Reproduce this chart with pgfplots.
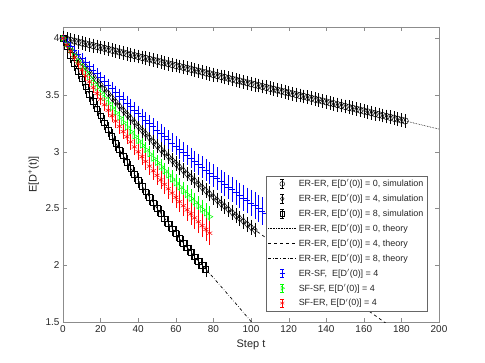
\documentclass[border=0pt]{standalone}
\usepackage{fontspec}
\setmainfont{Liberation Sans}
\usepackage{pgfplots}
\pgfplotsset{compat=1.18}
\usepackage{pgfplotstable}

\definecolor{axgray}{gray}{0.55}
\definecolor{txt}{gray}{0.15}
\newcommand{\Dp}{D$^{\prime}$}

% ER-ER, E[D'(0)] = 0, simulation
\pgfplotstableread{
t y
0 4.000
2 3.992
4 3.984
6 3.976
8 3.968
10 3.960
12 3.952
14 3.944
16 3.936
18 3.928
20 3.920
22 3.912
24 3.904
26 3.896
28 3.888
30 3.880
32 3.872
34 3.864
36 3.856
38 3.848
40 3.840
42 3.832
44 3.824
46 3.816
48 3.808
50 3.800
52 3.792
54 3.784
56 3.776
58 3.768
60 3.760
62 3.752
64 3.744
66 3.736
68 3.728
70 3.720
72 3.712
74 3.704
76 3.696
78 3.688
80 3.680
82 3.672
84 3.664
86 3.656
88 3.648
90 3.640
92 3.632
94 3.624
96 3.616
98 3.608
100 3.600
102 3.592
104 3.584
106 3.576
108 3.568
110 3.560
112 3.552
114 3.544
116 3.536
118 3.528
120 3.520
122 3.512
124 3.504
126 3.496
128 3.488
130 3.480
132 3.472
134 3.464
136 3.456
138 3.448
140 3.440
142 3.432
144 3.424
146 3.416
148 3.408
150 3.400
152 3.392
154 3.384
156 3.376
158 3.368
160 3.360
162 3.352
164 3.344
166 3.336
168 3.328
170 3.320
172 3.312
174 3.304
176 3.296
178 3.288
180 3.280
182 3.272
}\erzero

% ER-ER, E[D'(0)] = 4, simulation
\pgfplotstableread{
t y
0 4.0000
2 3.9572
4 3.9148
6 3.8730
8 3.8315
10 3.7905
12 3.7499
14 3.7098
16 3.6701
18 3.6308
20 3.5920
22 3.5535
24 3.5155
26 3.4779
28 3.4407
30 3.4039
32 3.3674
34 3.3314
36 3.2958
38 3.2605
40 3.2256
42 3.1911
44 3.1569
46 3.1231
48 3.0897
50 3.0567
52 3.0239
54 2.9916
56 2.9596
58 2.9279
60 2.8966
62 2.8656
64 2.8349
66 2.8046
68 2.7746
70 2.7449
72 2.7155
74 2.6864
76 2.6577
78 2.6292
80 2.6011
82 2.5733
84 2.5457
86 2.5185
88 2.4915
90 2.4649
92 2.4385
94 2.4124
96 2.3866
98 2.3611
100 2.3358
102 2.3108
}\erfour

% ER-ER, E[D'(0)] = 8, simulation
\pgfplotstableread{
t y
0 4.0000
2 3.9257
4 3.8529
6 3.7813
8 3.7111
10 3.6422
12 3.5746
14 3.5082
16 3.4431
18 3.3792
20 3.3164
22 3.2549
24 3.1944
26 3.1351
28 3.0769
30 3.0198
32 2.9637
34 2.9087
36 2.8547
38 2.8017
40 2.7497
42 2.6986
44 2.6485
46 2.5993
48 2.5511
50 2.5037
52 2.4572
54 2.4116
56 2.3668
58 2.3229
60 2.2798
62 2.2374
64 2.1959
66 2.1551
68 2.1151
70 2.0759
72 2.0373
74 1.9995
76 1.9624
}\ereight

% ER-SF
\pgfplotstableread{
t y e
0 4.0000 0.005
2 3.9641 0.007
4 3.9285 0.008
6 3.8932 0.010
8 3.8583 0.011
10 3.8236 0.013
12 3.7893 0.015
14 3.7553 0.016
16 3.7216 0.018
18 3.6882 0.019
20 3.6551 0.021
22 3.6223 0.023
24 3.5898 0.024
26 3.5576 0.026
28 3.5256 0.027
30 3.4940 0.029
32 3.4626 0.031
34 3.4315 0.032
36 3.4007 0.034
38 3.3702 0.035
40 3.3399 0.037
42 3.3099 0.039
44 3.2802 0.040
46 3.2508 0.042
48 3.2216 0.043
50 3.1927 0.045
52 3.1640 0.047
54 3.1356 0.048
56 3.1074 0.050
58 3.0795 0.051
60 3.0519 0.053
62 3.0245 0.055
64 2.9973 0.056
66 2.9704 0.058
68 2.9437 0.059
70 2.9173 0.061
72 2.8911 0.063
74 2.8651 0.064
76 2.8394 0.066
78 2.8139 0.067
80 2.7886 0.069
82 2.7636 0.071
84 2.7388 0.072
86 2.7142 0.074
88 2.6898 0.075
90 2.6657 0.077
92 2.6418 0.079
94 2.6181 0.080
96 2.5946 0.082
98 2.5713 0.083
100 2.5482 0.085
102 2.5253 0.087
104 2.5026 0.088
106 2.4801 0.090
108 2.4578 0.091
110 2.4357 0.093
}\ersf

% SF-SF
\pgfplotstableread{
t y e
0 4.0000 0.005
2 3.9491 0.006
4 3.8989 0.008
6 3.8493 0.009
8 3.8004 0.011
10 3.7520 0.012
12 3.7043 0.013
14 3.6572 0.015
16 3.6107 0.016
18 3.5648 0.018
20 3.5194 0.019
22 3.4747 0.020
24 3.4305 0.022
26 3.3869 0.023
28 3.3438 0.025
30 3.3013 0.026
32 3.2593 0.027
34 3.2178 0.029
36 3.1769 0.030
38 3.1365 0.032
40 3.0966 0.033
42 3.0572 0.034
44 3.0183 0.036
46 2.9799 0.037
48 2.9420 0.039
50 2.9046 0.040
52 2.8677 0.041
54 2.8312 0.043
56 2.7952 0.044
58 2.7596 0.046
60 2.7245 0.047
62 2.6898 0.048
64 2.6556 0.050
66 2.6218 0.051
68 2.5885 0.053
70 2.5556 0.054
72 2.5231 0.055
74 2.4910 0.057
76 2.4593 0.058
78 2.4280 0.060
}\sfsf

% SF-ER
\pgfplotstableread{
t y e
0 4.0000 0.005
2 3.9429 0.007
4 3.8866 0.009
6 3.8311 0.010
8 3.7764 0.012
10 3.7225 0.014
12 3.6694 0.016
14 3.6170 0.018
16 3.5654 0.019
18 3.5144 0.021
20 3.4642 0.023
22 3.4148 0.025
24 3.3660 0.027
26 3.3180 0.028
28 3.2706 0.030
30 3.2239 0.032
32 3.1779 0.034
34 3.1325 0.036
36 3.0878 0.037
38 3.0437 0.039
40 3.0002 0.041
42 2.9574 0.043
44 2.9152 0.045
46 2.8736 0.046
48 2.8326 0.048
50 2.7921 0.050
52 2.7523 0.052
54 2.7130 0.054
56 2.6742 0.055
58 2.6361 0.057
60 2.5984 0.059
62 2.5613 0.061
64 2.5248 0.063
66 2.4887 0.064
68 2.4532 0.066
70 2.4182 0.068
72 2.3836 0.070
74 2.3496 0.072
76 2.3160 0.073
78 2.2830 0.075
}\sfer

\pgfplotsset{
  ebleg/.style={legend image code/.code={
    \draw[##1,mark=none,solid,line width=0.4pt]
      (0.5cm,-0.15cm) -- (0.5cm,0.15cm)
      (0.43cm,-0.15cm) -- (0.57cm,-0.15cm)
      (0.43cm,0.15cm) -- (0.57cm,0.15cm);
    \draw[##1,mark size=2.4bp,line width=0.4pt] plot coordinates {(0.5cm,0cm)};
  }},
  lnleg/.style={legend image code/.code={
    \draw[##1] (0cm,0cm) -- (1cm,0cm);
  }},
  sim/.style={only marks, line width=0.5pt, mark options={solid}},
}

\begin{document}
\begin{tikzpicture}
\useasboundingbox (-63bp,-41bp) rectangle (422bp,322bp);
\begin{axis}[
    at={(0,0)}, anchor=south west,
    scale only axis, width=376bp, height=295bp,
    xmin=0, xmax=200,
    ymin=1.5, ymax=4.1,
    xtick={0,20,40,60,80,100,120,140,160,180,200},
    ytick={1.5,2,2.5,3,3.5,4},
    tick align=inside,
    major tick length=4bp,
    axis line style={draw=axgray},
    tick style={draw=axgray},
    /pgf/number format/assume math mode=true,
    tick label style={font=\fontsize{10}{12}\selectfont, text=txt},
    label style={font=\fontsize{11}{13}\selectfont, text=txt},
    xlabel={Step t},
    ylabel={E[D\textsuperscript{+}(t)]},
    legend cell align=left,
    legend style={at={(0.968,0.037)}, anchor=south east,
        font=\fontsize{9}{10}\selectfont, text=txt,
        draw=black!60, fill=white, inner sep=1.5pt,
        row sep=2.3pt},
]

\addplot[sim, ebleg, black, mark=o, mark size=3.2bp,
    error bars/.cd, y dir=both, y fixed=0.03,
    error bar style={line width=0.5pt},
    error mark options={mark size=3.5bp, line width=0.5pt}]
    table[x=t, y=y] {\erzero};
\addlegendentry{ER-ER, E[\Dp(0)] = 0, simulation}

\addplot[sim, ebleg, black, mark=diamond, mark size=3.4bp,
    error bars/.cd, y dir=both, y fixed=0.035,
    error bar style={line width=0.5pt},
    error mark options={mark size=3.5bp, line width=0.5pt}]
    table[x=t, y=y] {\erfour};
\addlegendentry{ER-ER, E[\Dp(0)] = 4, simulation}

\addplot[sim, ebleg, black, mark=square, mark size=2.8bp,
    error bars/.cd, y dir=both, y fixed=0.035,
    error bar style={line width=0.5pt},
    error mark options={mark size=3.5bp, line width=0.5pt}]
    table[x=t, y=y] {\ereight};
\addlegendentry{ER-ER, E[\Dp(0)] = 8, simulation}

\addplot[lnleg, black, densely dotted, line width=0.6pt]
    coordinates {(0,4) (50,3.8) (100,3.6) (150,3.4) (200,3.2)};
\addlegendentry{ER-ER, E[\Dp(0)] = 0, theory}

\addplot[lnleg, black, dashed, line width=0.7pt]
    coordinates {(0,4) (10,3.790) (20,3.592) (30,3.404) (40,3.226)
    (50,3.057) (60,2.897) (70,2.745) (80,2.601) (90,2.465) (100,2.336)
    (110,2.218) (120,2.100) (130,1.982) (140,1.864) (150,1.746)
    (160,1.628) (170,1.510) (180,1.392)};
\addlegendentry{ER-ER, E[\Dp(0)] = 4, theory}

\addplot[lnleg, black, dash dot, line width=0.7pt]
    coordinates {(0,4) (10,3.642) (20,3.316) (30,3.020) (40,2.750)
    (50,2.504) (60,2.280) (70,2.076) (80,1.890) (90,1.700) (100,1.505)
    (110,1.310)};
\addlegendentry{ER-ER, E[\Dp(0)] = 8, theory}

\addplot[sim, ebleg, blue, mark=+, mark size=3.2bp,
    error bars/.cd, y dir=both, y explicit,
    error bar style={line width=0.5pt},
    error mark options={mark size=3.5bp, line width=0.5pt}]
    table[x=t, y=y, y error=e] {\ersf};
\addlegendentry{ER-SF,\ \ E[\Dp(0)] = 4}

\addplot[sim, ebleg, green, mark=triangle, mark size=3.2bp,
    mark options={rotate=-90},
    error bars/.cd, y dir=both, y explicit,
    error bar style={line width=0.5pt},
    error mark options={mark size=3.5bp, line width=0.5pt}]
    table[x=t, y=y, y error=e] {\sfsf};
\addlegendentry{SF-SF, E[\Dp(0)] = 4}

\addplot[sim, ebleg, red, mark=asterisk, mark size=3bp,
    error bars/.cd, y dir=both, y explicit,
    error bar style={line width=0.5pt},
    error mark options={mark size=3.5bp, line width=0.5pt}]
    table[x=t, y=y, y error=e] {\sfer};
\addlegendentry{SF-ER, E[\Dp(0)] = 4}

\end{axis}
\end{tikzpicture}
\end{document}
